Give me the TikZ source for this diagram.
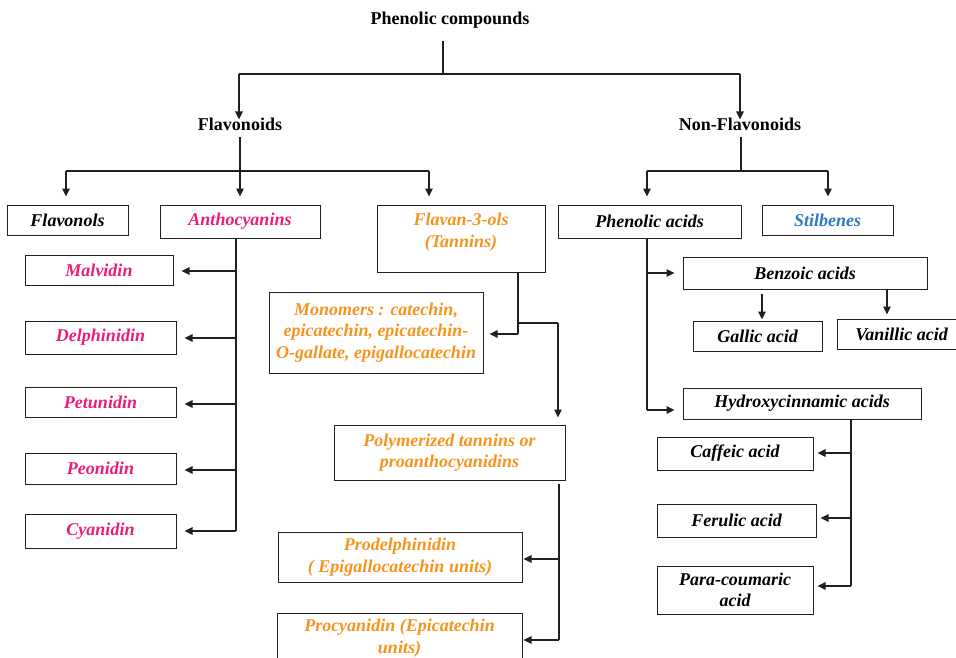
\documentclass[tikz,border=0pt]{standalone}
\usepackage{fontspec}
\setmainfont{Liberation Serif}
\usetikzlibrary{arrows.meta}
\definecolor{lc}{HTML}{231F20}
\definecolor{pinkc}{HTML}{E91E78}
\definecolor{orangec}{HTML}{F7941D}
\definecolor{bluec}{HTML}{2E7BC4}
\begin{document}
\begin{tikzpicture}[x=1pt,y=-1pt,
  ln/.style={draw=lc, line width=1.1pt},
  arr/.style={ln, -{Triangle[length=8pt,width=7.5pt]}},
  box/.style={draw=lc, line width=1pt, inner sep=0pt, align=center,
    font=\fontsize{18}{21.5}\selectfont\bfseries\itshape},
  head/.style={inner sep=0pt, text=black, font=\fontsize{18}{21}\selectfont\bfseries},
  lbl/.style={inner sep=0pt, align=center, font=\fontsize{18}{21.5}\selectfont\bfseries\itshape},
  bw/.style 2 args={minimum width=#1pt, minimum height=#2pt}]
\useasboundingbox (0,0) rectangle (956,657);

% headings
\node[head] (top) at (450,20) {Phenolic compounds};
\node[head] (flavonoids) at (240,124) {Flavonoids};
\node[head] (nonflav) at (740,124) {Non-Flavonoids};

% boxes level 1
\node[box, bw={121}{30}] (flavonols) at (67.5,220) {Flavonols};
\node[box, bw={160}{33}, text=pinkc] (antho) at (240,221.5) {Anthocyanins};
\node[box, bw={168}{67}] (flav) at (461,238.5) {};
\node[lbl, text=orangec] (flavT) at (461,232) {Flavan-3-ols\\(Tannins)};
\node[box, bw={183}{33}] (phen) at (649.5,221.5) {Phenolic acids};
\node[box, bw={131}{30}, text=bluec] (stilb) at (827.5,220) {Stilbenes};

% anthocyanins children
\node[box, bw={148}{30}, text=pinkc] (malv) at (99,270) {Malvidin};
\node[box, bw={151}{33}, text=pinkc] (delph) at (100.5,337.5) {Delphinidin};
\node[box, bw={151}{30}, text=pinkc] (petun) at (100.5,402) {Petunidin};
\node[box, bw={151}{31}, text=pinkc] (peon) at (100.5,468.5) {Peonidin};
\node[box, bw={151}{34}, text=pinkc] (cyan) at (100.5,531) {Cyanidin};

% flavan-3-ols children
\node[box, bw={214}{81}, text=orangec] (mono) at (376,332.5) {Monomers : catechin,\\epicatechin, epicatechin-\\O-gallate, epigallocatechin};
\node[box, bw={231}{55}, text=orangec] (poly) at (449.5,452.5) {Polymerized tannins or\\proanthocyanidins};
\node[box, bw={244}{50}, text=orangec] (prodel) at (400,557) {Prodelphinidin\\( Epigallocatechin units)};
\node[box, bw={245}{50}, text=orangec] (procy) at (399.5,638) {Procyanidin (Epicatechin\\units)};

% phenolic acids children
\node[box, bw={244}{32}] (benz) at (805,273) {Benzoic acids};
\node[box, bw={129}{30}] (gallic) at (757.5,336) {Gallic acid};
\node[box, bw={129}{30}] (vanil) at (901.5,334) {Vanillic acid};
\node[box, bw={238}{31}] (hydro) at (802,403.5) {Hydroxycinnamic acids};
\node[box, bw={156}{33}] (caff) at (735,453.5) {Caffeic acid};
\node[box, bw={159}{33}] (ferul) at (736.5,520.5) {Ferulic acid};
\node[box, bw={156}{48}] (para) at (735,590) {Para-coumaric\\acid};

% ---- connectors ----
% top level
\coordinate (t0) at (443,41);
\coordinate (t1) at (443,74);
\coordinate (tL) at (239,74);
\coordinate (tR) at (740,74);
\draw[ln] (t0) -- (t1);
\draw[ln] (tL) -- (tR);
\draw[arr] (tL) -- ([yshift=-2pt]tL |- flavonoids.north);
\draw[arr] (tR) -- ([yshift=-2pt]tR |- nonflav.north);

% flavonoids
\coordinate (f0) at (240,137);
\coordinate (f1) at (240,171);
\coordinate (fL) at (66,171);
\coordinate (fR) at (429,171);
\draw[ln] (f0) -- (f1);
\draw[ln] (fL) -- (fR);
\draw[arr, shorten >=8pt] (fL) -- (fL |- flavonols.north);
\draw[arr, shorten >=8pt] (f1) -- (f1 |- antho.north);
\draw[arr, shorten >=8pt] (fR) -- (fR |- flav.north);

% non-flavonoids
\coordinate (n0) at (741,137);
\coordinate (n1) at (741,171);
\coordinate (nL) at (647,171);
\coordinate (nR) at (828,171);
\draw[ln] (n0) -- (n1);
\draw[ln] (nL) -- (nR);
\draw[arr, shorten >=8pt] (nL) -- (nL |- phen.north);
\draw[arr, shorten >=8pt] (nR) -- (nR |- stilb.north);

% anthocyanins branch
\coordinate (aj) at (236,531);
\draw[ln] (antho.south -| aj) -- (aj);
\foreach \n/\y in {malv/271, delph/338, petun/404, peon/470, cyan/531}{
  \draw[arr, shorten >=8pt] (236,\y) -- (\n.east |- 0,\y);
}

% flavan-3-ols branch
\coordinate (fj) at (518,334);
\coordinate (fk) at (518,323);
\coordinate (fl) at (558,323);
\draw[ln] (flav.south -| fj) -- (fj);
\draw[arr, shorten >=6pt] (fj) -- (fj -| mono.east);
\draw[ln] (fk) -- (fl);
\draw[arr, shorten >=7pt] (fl) -- (fl |- poly.north);

% polymerized branch
\coordinate (pk0) at (559,484);
\coordinate (pa) at (559,559);
\coordinate (pk) at (559,640);
\draw[ln] (pk0) -- (pk);
\draw[arr, shorten >=1pt] (pa) -- (pa -| prodel.east);
\draw[arr, shorten >=1pt] (pk) -- (pk -| procy.east);

% phenolic acids branch
\coordinate (pj) at (647,410);
\coordinate (pb) at (647,273);
\draw[ln] (phen.south -| pj) -- (pj);
\draw[arr, shorten >=8pt] (pb) -- (pb -| benz.west);
\draw[arr, shorten >=8pt] (pj) -- (pj -| hydro.west);

% benzoic branch
\coordinate (bg) at (762,294);
\coordinate (bv) at (887,289);
\draw[arr, shorten >=1pt] (bg) -- (bg |- gallic.north);
\draw[arr, shorten >=4pt] (bv) -- (bv |- vanil.north);

% hydroxycinnamic branch
\coordinate (hj) at (851,586);
\draw[ln] (hydro.south -| hj) -- (hj);
\foreach \n/\y in {caff/453, ferul/518, para/586}{
  \draw[arr, shorten >=4pt] (851,\y) -- (\n.east |- 0,\y);
}
\end{tikzpicture}
\end{document}
